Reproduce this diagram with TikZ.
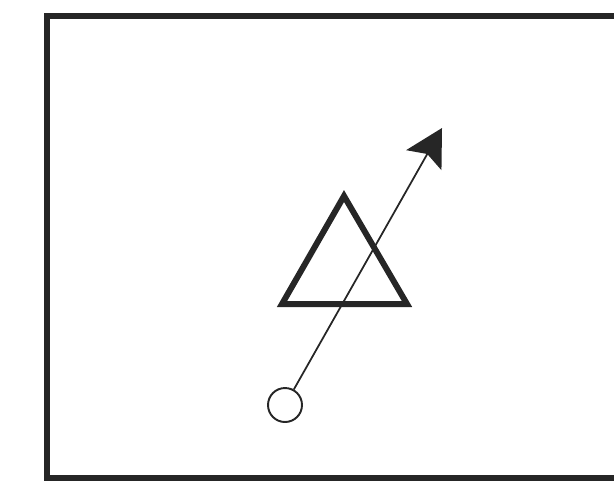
\documentclass[tikz,border=0pt]{standalone}
\usepackage{tikz}
\usetikzlibrary{arrows.meta}

\begin{document}
\begin{tikzpicture}[x=0.02cm,y=-0.02cm,black!85,
  frame/.style={line width=3pt,line join=miter},
  prism/.style={line width=3.4pt,line join=miter},
  ray/.style={line width=1pt,-{Stealth[length=21pt,width=23pt,inset=4pt]}},
  source/.style={circle,draw,line width=1.1pt,minimum size=0.68cm,inner sep=0pt}]
\useasboundingbox (0,0) rectangle (614,485);
% frame, open to the right
\draw[frame] (614,16) -- (47,16) -- (47,478) -- (614,478);
% triangle
\draw[prism] (344,196) -- (407,304) -- (282,304) -- cycle;
% source and ray
\node[source] (src) at (285,405) {};
\coordinate (tip) at (442,128);
\draw[ray] (src) -- (tip);
\end{tikzpicture}
\end{document}
